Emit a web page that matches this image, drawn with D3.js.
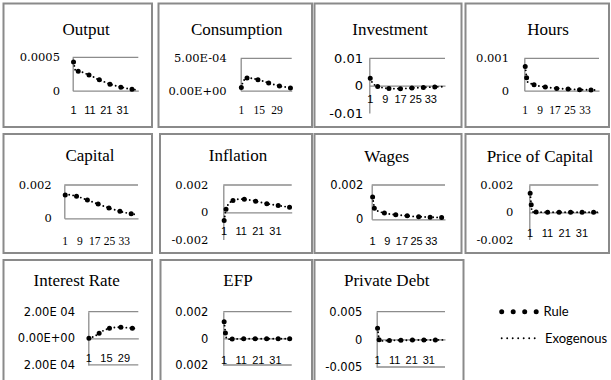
<!DOCTYPE html>
<html>
<head>
<meta charset="utf-8">
<script src="https://cdn.jsdelivr.net/npm/d3@7"></script>
<style>
  html, body { margin: 0; padding: 0; background: #fff; }
  svg { display: block; }
  svg text.t-title { font-family: 'Liberation Serif', 'DejaVu Serif', serif; font-size: 17px; }
  svg text.t-serif-wide { font-family: 'DejaVu Serif', 'Liberation Serif', serif; }
  svg text.t-serif { font-family: 'Liberation Serif', 'DejaVu Serif', serif; }
  svg text.t-sans { font-family: 'Liberation Sans', 'DejaVu Sans', sans-serif; }
  svg text.t-sans-wide { font-family: 'DejaVu Sans', 'Liberation Sans', sans-serif; }
  svg text.t-legend { font-family: Lato, 'Open Sans', sans-serif; font-size: 13px; }
</style>
</head>
<body>
<svg id="chart" width="611" height="380"></svg>
<script>
// Quarters after the shock (category axis)
const periods = d3.range(1, 41);

// Impulse responses, policy rule vs exogenous path
const outputRule = [0.00043,0.00031,0.00030,0.00029,0.00029,0.00028,0.00027,0.00026,0.00025,0.00024,0.00023,0.00022,0.00021,0.00019,0.00018,0.00017,0.00016,0.00015,0.00014,0.00013,0.00012,0.00011,0.00010,0.00009,0.00009,0.00008,0.00007,0.00006,0.00006,0.00005,0.00005,0.00004,0.00004,0.00003,0.00003,0.00002,0.00002,0.00002,0.00001,0.00001];
const outputExo = [0.00043,0.00031,0.00030,0.00029,0.00029,0.00028,0.00027,0.00026,0.00025,0.00024,0.00023,0.00022,0.00021,0.00019,0.00018,0.00017,0.00016,0.00015,0.00014,0.00013,0.00012,0.00011,0.00010,0.00009,0.00009,0.00008,0.00007,0.00006,0.00006,0.00005,0.00005,0.00004,0.00004,0.00003,0.00003,0.00002,0.00002,0.00002,0.00001,0.00001];

const consumptionRule = [0.00005,0.00012,0.00016,0.00018,0.00019,0.00020,0.00020,0.00020,0.00019,0.00019,0.00018,0.00018,0.00017,0.00017,0.00016,0.00016,0.00015,0.00015,0.00014,0.00013,0.00013,0.00012,0.00012,0.00011,0.00010,0.00010,0.00009,0.00009,0.00008,0.00008,0.00007,0.00007,0.00006,0.00006,0.00006,0.00005,0.00005,0.00005,0.00004,0.00004];
const consumptionExo = [0.00005,0.00012,0.00016,0.00018,0.00019,0.00020,0.00020,0.00020,0.00019,0.00019,0.00018,0.00018,0.00017,0.00017,0.00016,0.00016,0.00015,0.00015,0.00014,0.00013,0.00013,0.00012,0.00012,0.00011,0.00010,0.00010,0.00009,0.00009,0.00008,0.00008,0.00007,0.00007,0.00006,0.00006,0.00006,0.00005,0.00005,0.00005,0.00004,0.00004];

const investmentRule = [0.0027,0.0012,0.0004,0.0000,-0.0003,-0.0005,-0.0007,-0.0008,-0.0009,-0.0010,-0.0010,-0.0011,-0.0011,-0.0011,-0.0011,-0.0011,-0.0011,-0.0010,-0.0010,-0.0010,-0.0009,-0.0009,-0.0009,-0.0008,-0.0008,-0.0008,-0.0007,-0.0007,-0.0007,-0.0006,-0.0006,-0.0006,-0.0005,-0.0005,-0.0005,-0.0005,-0.0004,-0.0004,-0.0004,-0.0004];
const investmentExo = [0.0027,0.0012,0.0004,0.0000,-0.0003,-0.0005,-0.0007,-0.0008,-0.0009,-0.0010,-0.0010,-0.0011,-0.0011,-0.0011,-0.0011,-0.0011,-0.0011,-0.0010,-0.0010,-0.0010,-0.0009,-0.0009,-0.0009,-0.0008,-0.0008,-0.0008,-0.0007,-0.0007,-0.0007,-0.0006,-0.0006,-0.0006,-0.0005,-0.0005,-0.0005,-0.0005,-0.0004,-0.0004,-0.0004,-0.0004];

const hoursRule = [0.00075,0.00028,0.00024,0.00022,0.00020,0.00018,0.00016,0.00015,0.00014,0.00013,0.00012,0.00011,0.00010,0.00009,0.00009,0.00008,0.00008,0.00007,0.00007,0.00006,0.00006,0.00006,0.00005,0.00005,0.00005,0.00004,0.00004,0.00004,0.00004,0.00003,0.00003,0.00003,0.00003,0.00003,0.00002,0.00002,0.00002,0.00002,0.00002,0.00002];
const hoursExo = [0.00075,0.00028,0.00024,0.00022,0.00020,0.00018,0.00016,0.00015,0.00014,0.00013,0.00012,0.00011,0.00010,0.00009,0.00009,0.00008,0.00008,0.00007,0.00007,0.00006,0.00006,0.00006,0.00005,0.00005,0.00005,0.00004,0.00004,0.00004,0.00004,0.00003,0.00003,0.00003,0.00003,0.00003,0.00002,0.00002,0.00002,0.00002,0.00002,0.00002];

const capitalRule = [0.00140,0.00142,0.00142,0.00140,0.00138,0.00136,0.00133,0.00130,0.00126,0.00122,0.00118,0.00114,0.00110,0.00106,0.00102,0.00097,0.00093,0.00089,0.00085,0.00081,0.00077,0.00073,0.00069,0.00065,0.00061,0.00057,0.00054,0.00051,0.00047,0.00044,0.00041,0.00038,0.00036,0.00033,0.00031,0.00029,0.00027,0.00025,0.00024,0.00022];
const capitalExo = [0.00140,0.00142,0.00142,0.00140,0.00138,0.00136,0.00133,0.00130,0.00126,0.00122,0.00118,0.00114,0.00110,0.00106,0.00102,0.00097,0.00093,0.00089,0.00085,0.00081,0.00077,0.00073,0.00069,0.00065,0.00061,0.00057,0.00054,0.00051,0.00047,0.00044,0.00041,0.00038,0.00036,0.00033,0.00031,0.00029,0.00027,0.00025,0.00024,0.00022];

const inflationRule = [-0.00060,0.00020,0.00050,0.00068,0.00078,0.00086,0.00091,0.00094,0.00096,0.00097,0.00097,0.00096,0.00095,0.00094,0.00092,0.00090,0.00088,0.00086,0.00083,0.00080,0.00077,0.00074,0.00071,0.00068,0.00066,0.00063,0.00061,0.00059,0.00057,0.00055,0.00053,0.00051,0.00049,0.00047,0.00045,0.00043,0.00041,0.00039,0.00037,0.00035];
const inflationExo = [-0.00060,0.00020,0.00050,0.00068,0.00078,0.00086,0.00091,0.00094,0.00096,0.00097,0.00097,0.00096,0.00095,0.00094,0.00092,0.00090,0.00088,0.00086,0.00083,0.00080,0.00077,0.00074,0.00071,0.00068,0.00066,0.00063,0.00061,0.00059,0.00057,0.00055,0.00053,0.00051,0.00049,0.00047,0.00045,0.00043,0.00041,0.00039,0.00037,0.00035];

const wagesRule = [0.00130,0.00060,0.00052,0.00048,0.00044,0.00040,0.00037,0.00035,0.00033,0.00031,0.00030,0.00028,0.00027,0.00026,0.00025,0.00024,0.00023,0.00022,0.00021,0.00020,0.00019,0.00018,0.00017,0.00016,0.00016,0.00015,0.00015,0.00014,0.00014,0.00013,0.00013,0.00012,0.00012,0.00012,0.00011,0.00011,0.00011,0.00010,0.00010,0.00010];
const wagesExo = [0.00130,0.00060,0.00052,0.00048,0.00044,0.00040,0.00037,0.00035,0.00033,0.00031,0.00030,0.00028,0.00027,0.00026,0.00025,0.00024,0.00023,0.00022,0.00021,0.00020,0.00019,0.00018,0.00017,0.00016,0.00016,0.00015,0.00015,0.00014,0.00014,0.00013,0.00013,0.00012,0.00012,0.00012,0.00011,0.00011,0.00011,0.00010,0.00010,0.00010];

const priceCapitalRule = [0.00140,0.00003,0.00002,0.00002,0.00001,0.00001,0.00001,0.00001,0.00001,0.00001,0,0,0,0,0,0,0,0,0,0,0,0,0,0,0,0,0,0,0,0,0,0,0,0,0,0,0,0,0,0];
const priceCapitalExo = [0.00140,0.00003,0.00002,0.00002,0.00001,0.00001,0.00001,0.00001,0.00001,0.00001,0,0,0,0,0,0,0,0,0,0,0,0,0,0,0,0,0,0,0,0,0,0,0,0,0,0,0,0,0,0];

const interestRule = [0,0.000003,0.000006,0.000010,0.000014,0.000018,0.000024,0.000030,0.000037,0.000043,0.000050,0.000055,0.000060,0.000064,0.000068,0.000071,0.000074,0.000076,0.000078,0.000080,0.000081,0.000082,0.000082,0.000083,0.000083,0.000083,0.000082,0.000082,0.000081,0.000080,0.000080,0.000079,0.000078,0.000077,0.000077,0.000076,0.000075,0.000074,0.000073,0.000072];
const interestExo = [0,0.000003,0.000006,0.000010,0.000014,0.000018,0.000024,0.000030,0.000037,0.000043,0.000050,0.000055,0.000060,0.000064,0.000068,0.000071,0.000074,0.000076,0.000078,0.000080,0.000081,0.000082,0.000082,0.000083,0.000083,0.000083,0.000082,0.000082,0.000081,0.000080,0.000080,0.000079,0.000078,0.000077,0.000077,0.000076,0.000075,0.000074,0.000073,0.000072];

const efpRule = [0.00125,0.00010,-0.00008,-0.00006,-0.00005,-0.00005,-0.00004,-0.00004,-0.00004,-0.00004,-0.00004,-0.00004,-0.00003,-0.00003,-0.00003,-0.00003,-0.00003,-0.00003,-0.00003,-0.00003,-0.00003,-0.00003,-0.00003,-0.00003,-0.00003,-0.00003,-0.00003,-0.00003,-0.00003,-0.00003,-0.00003,-0.00003,-0.00003,-0.00003,-0.00003,-0.00003,-0.00003,-0.00003,-0.00003,-0.00003];
const efpExo = [0.00125,0.00010,-0.00008,-0.00006,-0.00005,-0.00005,-0.00004,-0.00004,-0.00004,-0.00004,-0.00004,-0.00004,-0.00003,-0.00003,-0.00003,-0.00003,-0.00003,-0.00003,-0.00003,-0.00003,-0.00003,-0.00003,-0.00003,-0.00003,-0.00003,-0.00003,-0.00003,-0.00003,-0.00003,-0.00003,-0.00003,-0.00003,-0.00003,-0.00003,-0.00003,-0.00003,-0.00003,-0.00003,-0.00003,-0.00003];

const privateDebtRule = [0.0020,-0.0003,-0.0003,-0.00028,-0.00026,-0.00024,-0.00022,-0.00021,-0.00020,-0.00019,-0.00018,-0.00018,-0.00017,-0.00017,-0.00016,-0.00016,-0.00015,-0.00015,-0.00014,-0.00014,-0.00014,-0.00013,-0.00013,-0.00013,-0.00012,-0.00012,-0.00012,-0.00012,-0.00011,-0.00011,-0.00011,-0.00011,-0.00011,-0.00010,-0.00010,-0.00010,-0.00010,-0.00010,-0.00010,-0.00010];
const privateDebtExo = [0.0020,-0.0003,-0.0003,-0.00028,-0.00026,-0.00024,-0.00022,-0.00021,-0.00020,-0.00019,-0.00018,-0.00018,-0.00017,-0.00017,-0.00016,-0.00016,-0.00015,-0.00015,-0.00014,-0.00014,-0.00014,-0.00013,-0.00013,-0.00013,-0.00012,-0.00012,-0.00012,-0.00012,-0.00011,-0.00011,-0.00011,-0.00011,-0.00011,-0.00010,-0.00010,-0.00010,-0.00010,-0.00010,-0.00010,-0.00010];

// Panel titles and y tick labels
const titles = ["Output","Consumption","Investment","Hours","Capital","Inflation","Wages","Price of Capital","Interest Rate","EFP","Private Debt"];
const yTickValues = [
  [0, 0.0005], [0, 0.0005], [-0.01, 0, 0.01], [0, 0.001],
  [0, 0.002], [-0.002, 0, 0.002], [0, 0.002], [-0.002, 0, 0.002],
  [-0.0002, 0, 0.0002], [-0.002, 0, 0.002], [-0.005, 0, 0.005]
];
const yTickLabels = [
  ["0", "0.0005"], ["0.00E+00", "5.00E-04"], ["-0.01", "0", "0.01"], ["0", "0.001"],
  ["0", "0.002"], ["-0.002", "0", "0.002"], ["0", "0.002"], ["-0.002", "0", "0.002"],
  ["2.00E 04", "0.00E+00", "2.00E 04"], ["0.002", "0", "0.002"], ["-0.005", "0", "0.005"]
];
const xTickSteps = [10, 14, 8, 8, 8, 10, 8, 10, 14, 10, 10];
const legendNames = ["Rule", "Exogenous"];

const ruleSeries = [outputRule, consumptionRule, investmentRule, hoursRule, capitalRule, inflationRule, wagesRule, priceCapitalRule, interestRule, efpRule, privateDebtRule];
const exoSeries = [outputExo, consumptionExo, investmentExo, hoursExo, capitalExo, inflationExo, wagesExo, priceCapitalExo, interestExo, efpExo, privateDebtExo];

// Layout of the small multiples: frame box, plot box [left, top, right, bottom], title anchor
const layout = [
  { frame: [3.5, 3.5, 148.5, 123.5],  plot: [72.7, 57.3, 138.3, 90.7],  title: [86, 35],    yLabelX: 60,    xLabelDy: 19, serifY: true,  serifX: false, bottomLine: false },
  { frame: [158.5, 3.5, 153.5, 123.5], plot: [240.7, 58.3, 291.7, 90.7], title: [236.7, 35], yLabelX: 226.7, xLabelDy: 19, serifY: true,  serifX: true,  bottomLine: false },
  { frame: [314.5, 3.5, 147, 123.5],  plot: [369.3, 58.3, 445, 113],    title: [390, 35],   yLabelX: 363,   xLabelDy: 14, serifY: false, serifX: false, bottomLine: false },
  { frame: [465.5, 3.5, 143.5, 123.5], plot: [524.3, 58.3, 599, 90.7],  title: [548, 35],   yLabelX: 509,   xLabelDy: 19, serifY: true,  serifX: true,  bottomLine: false },
  { frame: [3.5, 134, 148.5, 119],    plot: [64.3, 185, 138, 218.3],    title: [90, 161],   yLabelX: 51.7,  xLabelDy: 23, serifY: true,  serifX: true,  bottomLine: false },
  { frame: [160, 134, 152, 119],      plot: [223.3, 185, 291.7, 239.6], title: [238, 161],  yLabelX: 208.3, xLabelDy: 19, serifY: true,  serifX: false, bottomLine: false },
  { frame: [314.5, 134, 147, 119],    plot: [371.7, 185, 445, 219.3],   title: [386.7, 161.5], yLabelX: 363.3, xLabelDy: 22, serifY: false, serifX: false, bottomLine: false },
  { frame: [465.5, 134, 143.5, 119],  plot: [529.3, 185, 598.3, 239.6], title: [540, 161.5], yLabelX: 513.3, xLabelDy: 21, serifY: true,  serifX: false, bottomLine: false },
  { frame: [3.5, 260, 148.5, 140],    plot: [88.3, 311.7, 138.3, 364.9], title: [76.7, 286], yLabelX: 75,    xLabelDy: 20, serifY: false, serifX: false, bottomLine: true },
  { frame: [160.5, 260, 151.5, 140],  plot: [223.3, 311.7, 291.7, 365], title: [238, 286],  yLabelX: 208.3, xLabelDy: 21.5, serifY: false, serifX: false, bottomLine: true },
  { frame: [314.5, 260, 149, 140],    plot: [376.7, 311.7, 445, 367],   title: [386.7, 286], yLabelX: 362.3, xLabelDy: 20.5, serifY: false, serifX: false, bottomLine: true }
];

const frameColor = "#8a8a8a";
const axisColor = "#8c8c8c";

const svg = d3.select("#chart");
svg.append("rect").attr("width", 611).attr("height", 380).attr("fill", "#fff");

function styleRule(sel) {
  sel.attr("fill", "none").attr("stroke", "#000").attr("stroke-width", 5)
     .attr("stroke-linecap", "round").attr("stroke-linejoin", "round")
     .attr("stroke-dasharray", "0,11.5");
}
function styleExo(sel, gap) {
  sel.attr("fill", "none").attr("stroke", "#000").attr("stroke-width", 1.9)
     .attr("stroke-linecap", "round").attr("stroke-linejoin", "round")
     .attr("stroke-dasharray", "0," + (gap || 4));
}

titles.forEach((name, k) => {
  const L = layout[k];
  const g = svg.append("g");
  const [fx, fy, fw, fh] = L.frame;
  g.append("rect").attr("x", fx).attr("y", fy).attr("width", fw).attr("height", fh)
    .attr("fill", "none").attr("stroke", frameColor).attr("stroke-width", 2);

  const [l, t, r, b] = L.plot;
  const x = d3.scaleBand().domain(periods).range([l, r]);
  const vals = yTickValues[k];
  const y = d3.scaleLinear().domain([d3.min(vals), d3.max(vals)]).range([b, t]);
  const cx = p => x(p) + x.bandwidth() / 2;

  // plot-area outline at the top (and bottom where shown)
  g.append("line").attr("x1", l).attr("x2", r).attr("y1", t).attr("y2", t)
    .attr("stroke", axisColor).attr("stroke-width", 1.3);
  if (L.bottomLine) {
    g.append("line").attr("x1", l).attr("x2", r).attr("y1", b).attr("y2", b)
      .attr("stroke", axisColor).attr("stroke-width", 1.3);
  }

  // value axis
  const yAxis = d3.axisLeft(y).tickValues(vals)
    .tickFormat((d, i) => yTickLabels[k][i]).tickSize(0).tickPadding(l - L.yLabelX);
  const ya = g.append("g").attr("transform", `translate(${l},0)`).call(yAxis)
    .attr("font-family", null).attr("font-size", null);
  ya.select(".domain").attr("stroke", axisColor).attr("stroke-width", 1.3);
  ya.selectAll("text").attr("class", L.serifY ? "t-serif-wide" : "t-sans-wide")
    .style("font-size", (k === 2 ? 13 : 11.5) + "px").attr("fill", "#000");

  // category axis along zero
  const step = xTickSteps[k];
  const xAxis = d3.axisBottom(x).tickValues(periods.filter(p => (p - 1) % step === 0))
    .tickSize(0).tickSizeOuter(0);
  const xa = g.append("g").attr("transform", `translate(0,${y(0)})`).call(xAxis)
    .attr("font-family", null).attr("font-size", null);
  xa.select(".domain").attr("stroke", axisColor).attr("stroke-width", 1.3);
  xa.selectAll("text").attr("y", L.xLabelDy).attr("dy", "0.35em")
    .attr("class", L.serifX ? "t-serif" : "t-sans")
    .style("font-size", (L.serifX ? 11.5 : 11) + "px").attr("fill", "#000");

  // title
  g.append("text").attr("x", L.title[0]).attr("y", L.title[1])
    .attr("text-anchor", "middle").attr("class", "t-title")
    .attr("fill", "#000").text(name);

  const line = d3.line().x((d, i) => cx(periods[i])).y(d => y(d));
  g.append("path").datum(exoSeries[k]).attr("d", line).call(styleExo);
  g.append("path").datum(ruleSeries[k]).attr("d", line).call(styleRule);
});

// legend
const legend = svg.append("g");
const legendRows = [311.7, 338.3];
legendNames.forEach((name, i) => {
  const yy = legendRows[i];
  const p = legend.append("path")
    .attr("d", d3.line()([[501.7, yy], [i === 0 ? 538.3 : 540, yy]]));
  if (i === 0) p.call(styleRule); else p.call(styleExo, 5.5);
  legend.append("text").attr("x", i === 0 ? 543.5 : 545).attr("y", yy).attr("dy", "0.35em")
    .attr("class", "t-legend").attr("fill", "#000").text(name);
});
</script>
</body>
</html>
